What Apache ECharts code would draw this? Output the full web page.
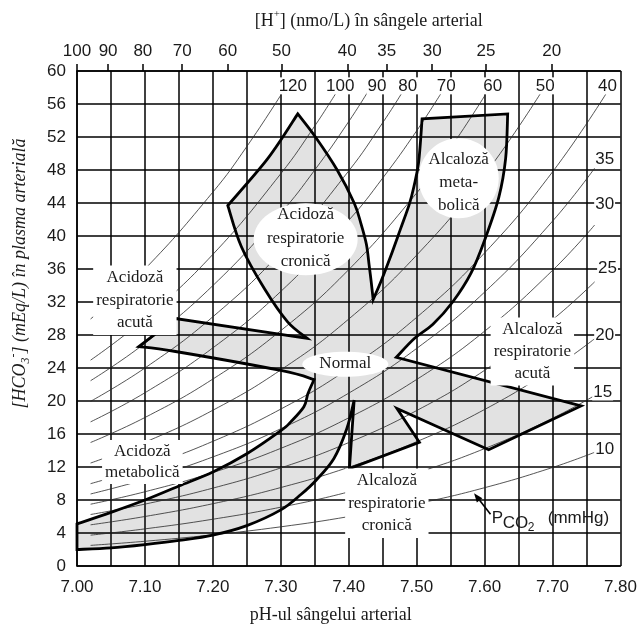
<!DOCTYPE html>
<html><head><meta charset="utf-8">
<script src="https://cdn.jsdelivr.net/npm/echarts@6/dist/echarts.min.js"></script>
<style>html,body{margin:0;padding:0;background:#fff}#c{width:640px;height:629px}</style>
</head><body><div id="c"></div>
<script>
// ---------------- data ----------------
// top axis: [H+] in nmol/L
const hPlusTicks = [100, 90, 80, 70, 60, 50, 40, 35, 30, 25, 20];
// PCO2 isopleth values (mmHg)
const pco2Values = [10, 15, 20, 25, 30, 35, 40, 50, 60, 70, 80, 90, 100, 120];
// isopleth curves [pH, HCO3]
const iso10  = [[7.02,2.50],[7.10,3.00],[7.20,3.78],[7.30,4.75],[7.40,5.99],[7.50,7.54],[7.60,9.49],[7.70,11.94],[7.762,13.78]];
const iso15  = [[7.02,3.74],[7.10,4.50],[7.20,5.67],[7.30,7.13],[7.40,8.98],[7.50,11.30],[7.60,14.23],[7.70,17.91],[7.762,20.66]];
const iso20  = [[7.02,4.99],[7.10,6.00],[7.20,7.55],[7.30,9.51],[7.40,11.97],[7.50,15.07],[7.60,18.97],[7.70,23.89],[7.762,27.55]];
const iso25  = [[7.02,6.24],[7.10,7.50],[7.20,9.44],[7.30,11.89],[7.40,14.96],[7.50,18.84],[7.60,23.72],[7.70,29.86],[7.762,34.44]];
const iso30  = [[7.02,7.49],[7.10,9.00],[7.20,11.33],[7.30,14.26],[7.40,17.96],[7.50,22.61],[7.60,28.46],[7.70,35.83],[7.762,41.33]];
const iso35  = [[7.02,8.73],[7.10,10.50],[7.20,13.22],[7.30,16.64],[7.40,20.95],[7.50,26.37],[7.60,33.20],[7.70,41.80],[7.762,48.22]];
const iso40  = [[7.02,9.98],[7.10,12.00],[7.20,15.11],[7.30,19.02],[7.40,23.94],[7.50,30.14],[7.60,37.95],[7.70,47.77],[7.78,57.40]];
const iso50  = [[7.02,12.48],[7.10,15.00],[7.20,18.88],[7.30,23.77],[7.40,29.93],[7.50,37.68],[7.60,47.43],[7.684,57.50]];
const iso60  = [[7.02,14.97],[7.10,18.00],[7.20,22.66],[7.30,28.53],[7.40,35.92],[7.50,45.21],[7.55,50.70],[7.604,57.50]];
const iso70  = [[7.02,17.47],[7.10,21.00],[7.20,26.44],[7.30,33.28],[7.40,41.90],[7.45,47.02],[7.50,52.75],[7.5375,57.50]];
const iso80  = [[7.02,19.96],[7.10,24.00],[7.20,30.21],[7.30,38.04],[7.40,47.89],[7.45,53.73],[7.4795,57.50]];
const iso90  = [[7.02,22.46],[7.10,27.00],[7.20,33.99],[7.30,42.79],[7.35,48.00],[7.40,53.87],[7.428,57.46]];
const iso100 = [[7.02,24.95],[7.10,30.00],[7.20,37.77],[7.30,47.55],[7.35,53.34],[7.3826,57.50]];
const iso120 = [[7.02,29.94],[7.10,36.00],[7.20,45.32],[7.25,50.85],[7.3033,57.50]];
const isopleths = [iso10, iso15, iso20, iso25, iso30, iso35, iso40, iso50, iso60, iso70, iso80, iso90, iso100, iso120];

// outline of the shaded zone [pH, HCO3], traced clockwise
const metAcidLower     = [[7.00,2.0],[7.05,2.2],[7.10,2.6],[7.15,3.1],[7.20,3.75],[7.25,4.9],[7.30,6.8],[7.33,8.7],[7.352,10.4],[7.378,13.0],[7.397,16.6],[7.408,20.1]];
const chronicAlkEdge   = [[7.408,20.1],[7.401,11.8],[7.504,15.0],[7.471,19.1],[7.606,14.1],[7.742,19.4],[7.470,25.3]];
const metAlkRight      = [[7.470,25.3],[7.497,27.6],[7.524,29.3],[7.553,32.0],[7.580,35.5],[7.601,39.7],[7.621,44.7],[7.631,49.4],[7.634,54.8]];
const metAlkTop        = [[7.634,54.8],[7.508,54.2]];
const metAlkLeft       = [[7.508,54.2],[7.503,49.0],[7.496,46.0],[7.489,43.8],[7.476,40.8],[7.462,37.6],[7.448,34.6],[7.436,32.3]];
const chronicAcidRight = [[7.436,32.3],[7.433,34.5],[7.430,36.5],[7.426,39.0],[7.418,41.5],[7.408,44.0],[7.383,48.0],[7.351,52.0],[7.325,54.8]];
const chronicAcidLeft  = [[7.325,54.8],[7.281,49.4],[7.222,43.7]];
const chronicAcidLower = [[7.222,43.7],[7.242,38.7],[7.276,33.6],[7.310,29.6],[7.339,27.6]];
const acuteAcidUpper   = [[7.339,27.6],[7.145,30.0],[7.091,26.6]];
const acuteAcidLower   = [[7.091,26.6],[7.145,26.0],[7.300,23.7],[7.349,22.6]];
const metAcidUpper     = [[7.349,22.6],[7.340,20.9],[7.334,19.3],[7.315,17.5],[7.300,16.4],[7.25,13.6],[7.20,11.4],[7.15,9.7],[7.10,8.0],[7.05,6.5],[7.00,5.1]];

// ---------------- layout / styling ----------------
const serif = '"Liberation Serif","Times New Roman",serif';
const sans = '"Liberation Sans",Arial,sans-serif';
const ink = '#1a1a1a';

const outlineSegments = [
  {pts: metAcidLower, curve: true},
  {pts: chronicAlkEdge, curve: false},
  {pts: metAlkRight, curve: true},
  {pts: metAlkTop, curve: false},
  {pts: metAlkLeft, curve: true},
  {pts: chronicAcidRight, curve: true},
  {pts: chronicAcidLeft, curve: true},
  {pts: chronicAcidLower, curve: true},
  {pts: acuteAcidUpper, curve: false},
  {pts: acuteAcidLower, curve: true},
  {pts: metAcidUpper, curve: true}
];

function f(n){ return n.toFixed(2); }
function buildPath(api){
  let d = '';
  outlineSegments.forEach((seg, si) => {
    const P = seg.pts.map(p => api.coord(p));
    if (si === 0) d += 'M' + f(P[0][0]) + ' ' + f(P[0][1]);
    if (!seg.curve) {
      for (let i = 1; i < P.length; i++) d += 'L' + f(P[i][0]) + ' ' + f(P[i][1]);
    } else {
      for (let i = 0; i < P.length - 1; i++) {
        const p0 = P[i-1] || P[i], p1 = P[i], p2 = P[i+1], p3 = P[i+2] || P[i+1];
        const c1 = [p1[0] + (p2[0]-p0[0])/6, p1[1] + (p2[1]-p0[1])/6];
        const c2 = [p2[0] - (p3[0]-p1[0])/6, p2[1] - (p3[1]-p1[1])/6];
        d += 'C' + f(c1[0]) + ' ' + f(c1[1]) + ' ' + f(c2[0]) + ' ' + f(c2[1]) + ' ' + f(p2[0]) + ' ' + f(p2[1]);
      }
    }
  });
  return d + 'Z';
}

// label anchors for the isopleth values
const isoLabelAt = [[7.7767,14.1],[7.7738,21.1],[7.7767,28.0],[7.781,36.1],[7.7767,43.8],[7.7767,49.3],
                    [7.781,58.2],[7.6893,58.2],[7.612,58.2],[7.5435,58.2],[7.4867,58.2],[7.4415,58.2],[7.3876,58.2],[7.3177,58.2]];

const ellipses = [
  {at: [7.3366, 39.6], rx: 52, ry: 36},
  {at: [7.5619, 47.0], rx: 40, ry: 40},
  {at: [7.3950, 24.45], rx: 43, ry: 12.5}
];
const zoneTexts = [
  {text: 'Acidoză\nrespiratorie\ncronică', at: [7.3366, 39.7], lh: 23.5, bg: false},
  {text: 'Alcaloză\nmeta-\nbolică', at: [7.5619, 46.5], lh: 22.7, bg: false},
  {text: 'Normal', at: [7.3950, 24.5], lh: 20, bg: false},
  {text: 'Acidoză\nrespiratorie\nacută', at: [7.0852, 32.2], lh: 22.5, bg: true},
  {text: 'Alcaloză\nrespiratorie\nacută', at: [7.6703, 26.0], lh: 22, bg: true},
  {text: 'Acidoză\nmetabolică', at: [7.0962, 12.6], lh: 21, bg: true},
  {text: 'Alcaloză\nrespiratorie\ncronică', at: [7.4561, 7.6], lh: 22.5, bg: true}
];
// legend "PCO2 (mmHg)": anchor is the left/middle of the "P"
const pco2Legend = {at: [7.6106, 5.82], arrowFrom: [7.6087, 6.26], arrowTo: [7.5845, 8.82]};
const legendParts = [
  {text: 'P', dx: 0, dy: 0, size: 17},
  {text: 'CO', dx: 11, dy: 5, size: 17},
  {text: '2', dx: 36, dy: 10, size: 12},
  {text: '(mmHg)', dx: 56, dy: 0, size: 17}
];

const hTickPH = hPlusTicks.map(h => 9 - Math.log10(h));

const chart = echarts.init(document.getElementById('c'));

const isoSeries = isopleths.map((pts, i) => ({
  type: 'line', name: 'PCO2 ' + pco2Values[i], data: pts, smooth: 0.45,
  symbol: 'none', silent: true, z: 4,
  lineStyle: {color: '#2a2a2a', width: 0.8}
}));

function renderAnnotations(params, api){
  const ch = [];
  ellipses.forEach(e => {
    const c = api.coord(e.at);
    ch.push({type: 'ellipse', shape: {cx: c[0], cy: c[1], rx: e.rx, ry: e.ry}, style: {fill: '#fff'}});
  });
  zoneTexts.forEach(t => {
    const c = api.coord(t.at);
    ch.push({type: 'text', x: c[0], y: c[1], style: {
      text: t.text, fill: ink, fontFamily: serif, fontSize: 17, lineHeight: t.lh,
      align: 'center', verticalAlign: 'middle',
      backgroundColor: t.bg ? '#fff' : null, padding: t.bg ? [1, 3, 1, 3] : 0
    }});
  });
  pco2Values.forEach((v, i) => {
    const c = api.coord(isoLabelAt[i]);
    ch.push({type: 'text', x: c[0], y: c[1], style: {
      text: String(v), fill: ink, fontFamily: sans, fontSize: 17,
      align: 'center', verticalAlign: 'middle', backgroundColor: '#fff', padding: [0, 1, 0, 1]
    }});
  });
  // PCO2 (mmHg) legend with arrow
  const lc = api.coord(pco2Legend.at);
  legendParts.forEach(p => {
    ch.push({type: 'text', x: lc[0] + p.dx, y: lc[1] + p.dy, style: {
      text: p.text, fill: ink, fontFamily: sans, fontSize: p.size, align: 'left', verticalAlign: 'middle'
    }});
  });
  const a0 = api.coord(pco2Legend.arrowFrom), a1 = api.coord(pco2Legend.arrowTo);
  const dx = a1[0] - a0[0], dy = a1[1] - a0[1], len = Math.hypot(dx, dy);
  const ux = dx / len, uy = dy / len, hl = 9, hw = 3.5;
  const bx = a1[0] - ux * hl, by = a1[1] - uy * hl;
  ch.push({type: 'line', shape: {x1: a0[0], y1: a0[1], x2: bx, y2: by}, style: {stroke: '#000', lineWidth: 1.6}});
  ch.push({type: 'polygon', shape: {points: [[a1[0], a1[1]], [bx - uy * hw, by + ux * hw], [bx + uy * hw, by - ux * hw]]}, style: {fill: '#000'}});
  return {type: 'group', children: ch};
}

const option = {
  animation: false,
  backgroundColor: '#fff',
  grid: {left: 74, right: 17, top: 71, bottom: 53},
  xAxis: [
    {
      type: 'value', position: 'bottom', min: 7, max: 7.8, interval: 0.05, z: 3,
      axisLine: {show: true, onZero: false, lineStyle: {color: '#000', width: 1.5}},
      axisTick: {show: false},
      axisLabel: {formatter: v => (Math.round(v * 100) % 10 === 0 ? v.toFixed(2) : ''),
        fontFamily: sans, fontSize: 17, color: ink, margin: 13},
      splitLine: {show: true, lineStyle: {color: '#000', width: 1.5}},
      name: 'pH-ul sângelui arterial', nameLocation: 'middle', nameGap: 40,
      nameTextStyle: {fontFamily: serif, fontSize: 18, color: ink, padding: [0, 36, 0, 0]}
    },
    {
      type: 'value', position: 'top', min: 7, max: 7.8, z: 3,
      axisLine: {show: true, onZero: false, lineStyle: {color: '#000', width: 1.5}},
      axisTick: {show: true, length: 7, customValues: hTickPH, lineStyle: {color: '#000', width: 1.5}},
      axisLabel: {customValues: hTickPH, formatter: v => String(Math.round(Math.pow(10, 9 - v))),
        fontFamily: sans, fontSize: 17, color: ink, margin: 11},
      splitLine: {show: false},
      name: '[H{sup|+}] (nmo/L) în sângele arterial', nameLocation: 'middle', nameGap: 38,
      nameTextStyle: {fontFamily: serif, fontSize: 18, color: ink, lineHeight: 24, padding: [0, 0, 0, 40],
        rich: {sup: {fontFamily: serif, fontSize: 11, lineHeight: 11, verticalAlign: 'top', color: ink}}}
    }
  ],
  yAxis: {
    type: 'value', min: 0, max: 60, interval: 4, z: 3,
    axisLine: {show: true, onZero: false, lineStyle: {color: '#000', width: 1.5}},
    axisTick: {show: false},
    axisLabel: {fontFamily: sans, fontSize: 17, color: ink, margin: 11},
    splitLine: {show: true, lineStyle: {color: '#000', width: 1.5}},
    name: '[HCO{sub|3}{sup|-}] (mEq/L) în plasma arterială', nameLocation: 'middle', nameGap: 45,
    nameTextStyle: {fontFamily: serif, fontStyle: 'italic', fontSize: 18, color: ink, lineHeight: 24,
      padding: [0, 0, 0, 90],
      rich: {
        sub: {fontFamily: serif, fontStyle: 'italic', fontSize: 12, lineHeight: 12, verticalAlign: 'bottom', color: ink},
        sup: {fontFamily: serif, fontStyle: 'italic', fontSize: 12, lineHeight: 12, verticalAlign: 'top', color: ink}
      }}
  },
  series: [
    {
      type: 'custom', name: 'zone-fill', z: 1, silent: true, data: [[7.4, 30]],
      renderItem: (params, api) => ({type: 'path', shape: {pathData: buildPath(api)}, style: {fill: '#e2e2e2', stroke: null}})
    },
    ...isoSeries,
    {
      type: 'custom', name: 'zone-outline', z: 5, silent: true, data: [[7.4, 30]],
      renderItem: (params, api) => ({type: 'path', shape: {pathData: buildPath(api)},
        style: {fill: null, stroke: '#000', lineWidth: 2.8, lineJoin: 'miter', miterLimit: 8}})
    },
    {
      type: 'custom', name: 'annotations', z: 6, silent: true, data: [[7.4, 30]],
      renderItem: renderAnnotations
    }
  ]
};
chart.setOption(option);
</script>
</body></html>
